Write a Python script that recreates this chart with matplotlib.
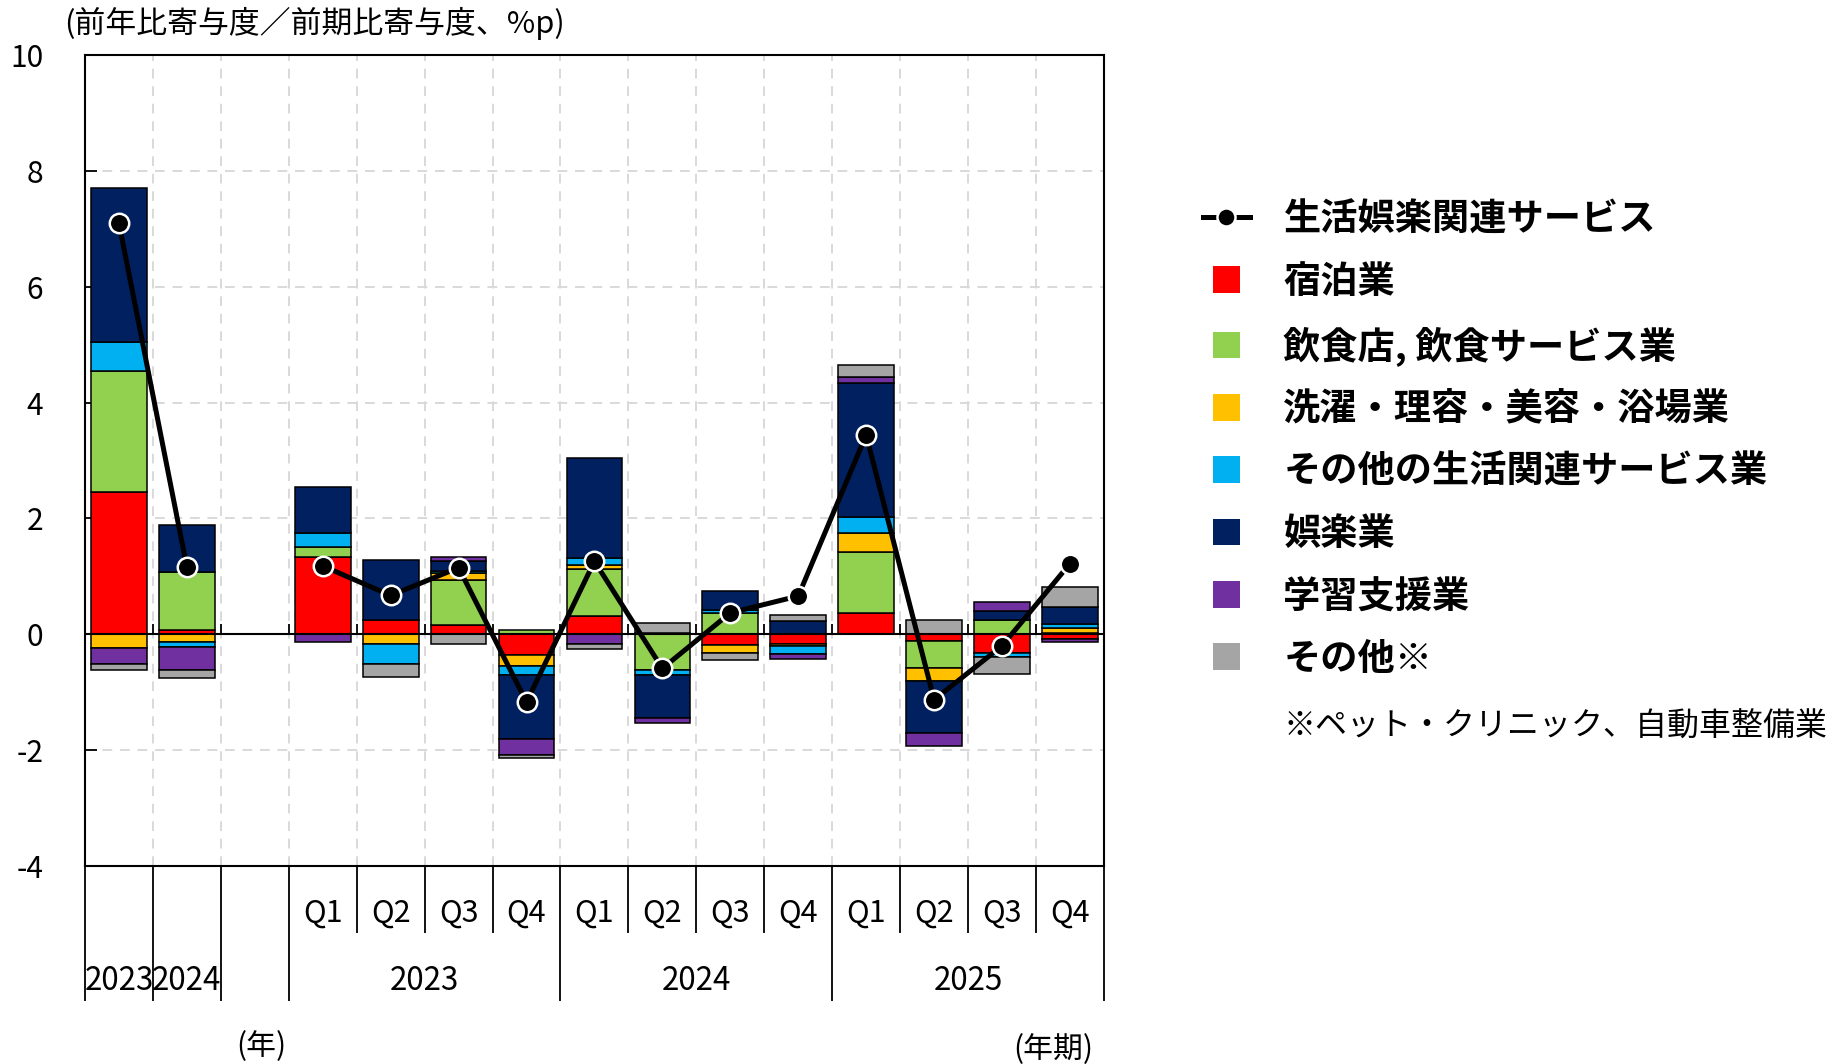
import matplotlib.pyplot as plt
import numpy as np
from matplotlib.legend_handler import HandlerPatch
from matplotlib.lines import Line2D
from matplotlib.patches import Patch, Rectangle

plt.rcParams["font.family"] = ["Noto Sans CJK JP", "DejaVu Sans"]
plt.rcParams["axes.unicode_minus"] = False

# 15 slots: two annual bars, an empty spacer, then 12 quarters
SLOT_LABELS = ["", "", "", "Q1", "Q2", "Q3", "Q4", "Q1", "Q2", "Q3", "Q4", "Q1", "Q2", "Q3", "Q4"]
GROUP_LABELS = ["2023", "2024", "2023", "2024", "2025"]
GROUP_CENTERS = [0, 1, 4.5, 8.5, 12.5]

# contribution by industry (%p); spacer slot is 0
lodging = [2.46, 0.07, 0, 1.34, 0.24, 0.16, -0.36, 0.31, 0.02, -0.19, -0.16, 0.36, -0.12, -0.33, -0.08]
restaurants = [2.08, 1.00, 0, 0.16, 0, 0.77, 0.07, 0.81, -0.61, 0.36, 0, 1.06, -0.47, 0.25, 0.03]
laundry_beauty = [-0.24, -0.13, 0, 0, -0.16, 0.13, -0.19, 0.07, 0, -0.14, -0.05, 0.33, -0.22, 0, 0.07]
other_living = [0.51, -0.09, 0, 0.24, -0.35, 0.04, -0.16, 0.12, -0.10, 0.06, -0.13, 0.28, 0, -0.07, 0.08]
entertainment = [2.66, 0.82, 0, 0.81, 1.04, 0.17, -1.09, 1.74, -0.73, 0.32, 0.23, 2.30, -0.90, 0.15, 0.29]
learning = [-0.27, -0.39, 0, -0.13, 0, 0.06, -0.29, -0.17, -0.09, 0, -0.08, 0.11, -0.21, 0.15, -0.05]
others = [-0.11, -0.15, 0, 0, -0.23, -0.16, -0.04, -0.08, 0.18, -0.12, 0.10, 0.21, 0.24, -0.28, 0.34]

# total for living-related & amusement services
total = [7.10, 1.16, np.nan, 1.18, 0.67, 1.15, -1.17, 1.26, -0.59, 0.37, 0.66, 3.44, -1.13, -0.20, 1.22]

SERIES = [
    ("宿泊業", lodging, "#FF0000"),
    ("飲食店, 飲食サービス業", restaurants, "#92D050"),
    ("洗濯・理容・美容・浴場業", laundry_beauty, "#FFC000"),
    ("その他の生活関連サービス業", other_living, "#00B0F0"),
    ("娯楽業", entertainment, "#002060"),
    ("学習支援業", learning, "#7030A0"),
    ("その他※", others, "#A5A5A5"),
]
TOTAL_LABEL = "生活娯楽関連サービス"


def square_patch(legend, orig_handle, xdescent, ydescent, width, height, fontsize):
    side = height
    return Rectangle((-xdescent + (width - side) / 2, -ydescent), side, side)


def main():
    fig = plt.figure(figsize=(18.35, 10.64), dpi=100)
    ax = fig.add_axes([0.0463, 0.1861, 0.5553, 0.7622])

    x = np.arange(len(SLOT_LABELS))
    pos_base = np.zeros(len(x))
    neg_base = np.zeros(len(x))
    for name, vals, color in SERIES:
        v = np.array(vals, dtype=float)
        bottom = np.where(v >= 0, pos_base, neg_base)
        keep = v != 0
        ax.bar(x[keep], v[keep], bottom=bottom[keep], width=0.82, color=color,
               edgecolor="black", linewidth=1.1, zorder=3)
        pos_base += np.clip(v, 0, None)
        neg_base += np.clip(v, None, 0)

    ax.plot(x, total, color="black", lw=3.6, marker="o", ms=14, mfc="black",
            mec="white", mew=1.8, zorder=5)

    ax.axhline(0, color="black", lw=1.5, zorder=4)
    bounds = np.arange(0.5, 14.5, 1)
    ax.vlines(bounds, 0, 0.18, color="black", lw=1.3, zorder=4)

    ax.set_xlim(-0.5, 14.5)
    ax.set_ylim(-4, 10)
    ax.set_yticks(np.arange(-4, 11, 2))
    ax.tick_params(axis="y", direction="in", length=8.6, width=1.3, pad=30, labelsize=21.5)
    ax.set_xticks([])
    ax.set_xticks(bounds, minor=True)
    ax.tick_params(axis="x", which="both", length=0, labelbottom=False)
    ax.grid(which="minor", axis="x", color="#D9D9D9", ls=(0, (5, 4)), lw=1.4)
    ax.grid(which="major", axis="y", color="#D9D9D9", ls=(0, (5, 4)), lw=1.4)
    ax.set_axisbelow(True)
    for sp in ax.spines.values():
        sp.set_linewidth(1.5)
        sp.set_color("black")

    # multi-level category axis under the plot
    tr = ax.get_xaxis_transform()
    long_bounds = [-0.5, 0.5, 1.5, 2.5, 6.5, 10.5, 14.5]
    short_bounds = [3.5, 4.5, 5.5, 7.5, 8.5, 9.5, 11.5, 12.5, 13.5]
    ax.vlines(long_bounds, -0.1665, 0, transform=tr, clip_on=False, color="black", lw=1.3)
    ax.vlines(short_bounds, -0.0826, 0, transform=tr, clip_on=False, color="black", lw=1.3)
    for xi, lab in zip(x, SLOT_LABELS):
        if lab:
            ax.text(xi, -0.058, lab, transform=tr, ha="center", va="center", fontsize=22)
    for xc, lab in zip(GROUP_CENTERS, GROUP_LABELS):
        ax.text(xc, -0.142, lab, transform=tr, ha="center", va="center", fontsize=22.5)
    ax.text(2.1, -0.222, "(年)", transform=tr, ha="center", va="center", fontsize=21.5)
    ax.text(13.75, -0.226, "(年期)", transform=tr, ha="center", va="center", fontsize=21.5)

    fig.text(0.0349, 0.978, "(前年比寄与度／前期比寄与度、%p)", fontsize=22.2, va="center")

    handles = [Line2D([], [], color="black", lw=3.6, marker="o", ms=13, mfc="black",
                      mec="white", mew=1.8)]
    labels = [TOTAL_LABEL]
    for name, vals, color in SERIES:
        handles.append(Patch(facecolor=color, edgecolor="none"))
        labels.append(name)
    fig.legend(handles, labels, loc="upper left", bbox_to_anchor=(0.6556, 0.8107),
               frameon=False, prop={"weight": "bold", "size": 26.8},
               handlelength=1.26, handleheight=0.73, handletextpad=0.9,
               labelspacing=0.68, borderpad=0, borderaxespad=0,
               handler_map={Patch: HandlerPatch(patch_func=square_patch)})
    fig.text(0.6997, 1 - 727 / 1064, "※ペット・クリニック、自動車整備業", fontsize=23, va="center")

    fig.savefig("out.png", dpi=100)


if __name__ == "__main__":
    main()
